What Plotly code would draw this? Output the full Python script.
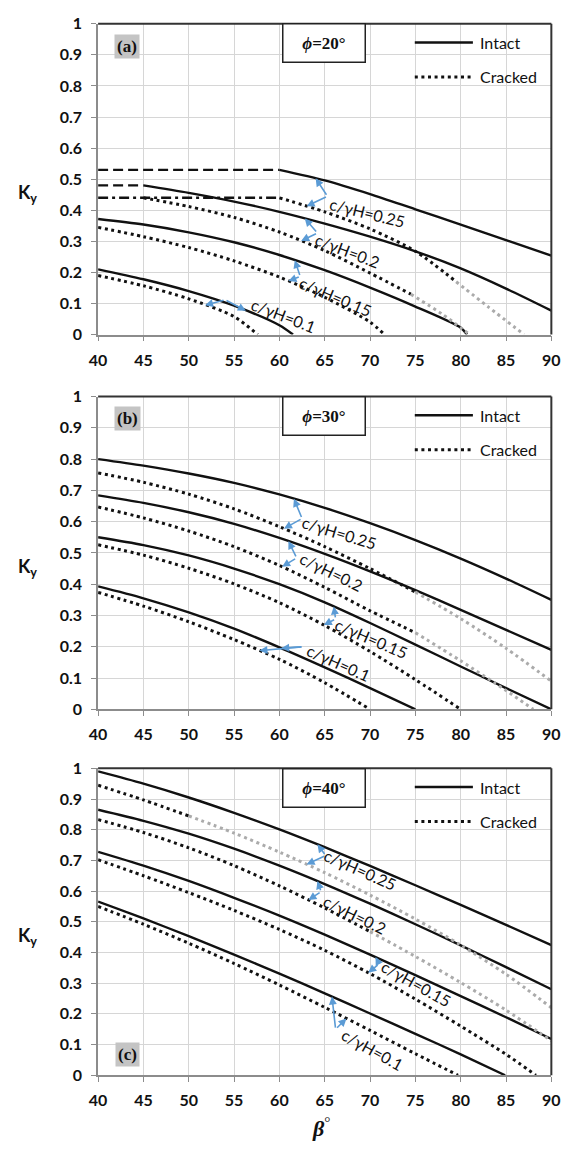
import numpy as np
import plotly.graph_objects as go

W, H = 571, 1157

# ---------------- data: K_y against slope angle beta (deg) ----------------
beta_ticks = [40, 45, 50, 55, 60, 65, 70, 75, 80, 85, 90]
ky_ticks = [0, 0.1, 0.2, 0.3, 0.4, 0.5, 0.6, 0.7, 0.8, 0.9, 1]
ky_ticktext = ["0", "0.1", "0.2", "0.3", "0.4", "0.5", "0.6", "0.7", "0.8", "0.9", "1"]
levels = ["0.25", "0.2", "0.15", "0.1"]

# phi = 20 deg
a_i25_cap_b = [40, 60]
a_i25_cap_k = [0.53, 0.53]
a_i25_b = [60, 65, 70, 75, 80, 85, 90]
a_i25_k = [0.53, 0.496, 0.452, 0.403, 0.354, 0.304, 0.254]
a_i20_cap_b = [40, 45]
a_i20_cap_k = [0.48, 0.48]
a_i20_b = [45, 50, 55, 60, 65, 70, 75, 80, 85, 90]
a_i20_k = [0.48, 0.456, 0.428, 0.395, 0.357, 0.315, 0.268, 0.213, 0.148, 0.077]
a_i15_b = [40, 45, 50, 55, 60, 65, 70, 75, 80, 80.7]
a_i15_k = [0.372, 0.354, 0.329, 0.297, 0.256, 0.207, 0.151, 0.09, 0.022, 0]
a_i10_b = [40, 45, 50, 55, 60, 61.5]
a_i10_k = [0.21, 0.178, 0.14, 0.093, 0.03, 0]
a_c25_cap_b = [40, 60]
a_c25_cap_k = [0.44, 0.44]
a_c25_b = [60, 65, 70, 75, 79.5]
a_c25_k = [0.44, 0.395, 0.34, 0.268, 0.17]
a_c25_ext_b = [79.5, 83, 87]
a_c25_ext_k = [0.17, 0.09, 0]
a_c20_b = [45, 50, 55, 60, 65, 70, 74.5]
a_c20_k = [0.44, 0.412, 0.377, 0.33, 0.27, 0.198, 0.13]
a_c20_ext_b = [74.5, 78, 81]
a_c20_ext_k = [0.13, 0.065, 0]
a_c15_b = [40, 45, 50, 55, 60, 65, 70, 71.6]
a_c15_k = [0.345, 0.315, 0.28, 0.237, 0.185, 0.12, 0.04, 0]
a_c10_b = [40, 45, 50, 55, 57.6]
a_c10_k = [0.19, 0.157, 0.115, 0.058, 0]

# phi = 30 deg
b_i25_b = [40, 45, 50, 55, 60, 65, 70, 75, 80, 85, 90]
b_i25_k = [0.80, 0.779, 0.754, 0.724, 0.687, 0.644, 0.595, 0.541, 0.482, 0.418, 0.35]
b_i20_b = [40, 45, 50, 55, 60, 65, 70, 75, 80, 85, 90]
b_i20_k = [0.684, 0.66, 0.63, 0.593, 0.548, 0.497, 0.441, 0.381, 0.318, 0.254, 0.19]
b_i15_b = [40, 45, 50, 55, 60, 65, 70, 75, 80, 85, 90]
b_i15_k = [0.55, 0.525, 0.492, 0.45, 0.40, 0.342, 0.276, 0.207, 0.137, 0.068, 0]
b_i10_b = [40, 45, 50, 55, 60, 65, 70, 75]
b_i10_k = [0.393, 0.355, 0.31, 0.258, 0.198, 0.134, 0.068, 0]
b_c25_b = [40, 45, 50, 55, 60, 65, 70, 75]
b_c25_k = [0.756, 0.726, 0.688, 0.641, 0.584, 0.52, 0.45, 0.375]
b_c25_ext_b = [75, 80, 85, 90]
b_c25_ext_k = [0.375, 0.29, 0.195, 0.09]
b_c20_b = [40, 45, 50, 55, 60, 65, 70, 75]
b_c20_k = [0.647, 0.612, 0.57, 0.52, 0.46, 0.39, 0.315, 0.245]
b_c20_ext_b = [75, 80, 85, 88]
b_c20_ext_k = [0.245, 0.155, 0.06, 0]
b_c15_b = [40, 45, 50, 55, 60, 65, 70, 75, 80]
b_c15_k = [0.526, 0.493, 0.451, 0.401, 0.341, 0.268, 0.185, 0.095, 0]
b_c10_b = [40, 45, 50, 55, 60, 65, 70]
b_c10_k = [0.374, 0.33, 0.28, 0.223, 0.16, 0.085, 0]

# phi = 40 deg
c_i25_b = [40, 45, 50, 55, 60, 65, 70, 75, 80, 85, 90]
c_i25_k = [0.99, 0.95, 0.905, 0.855, 0.801, 0.743, 0.682, 0.619, 0.555, 0.49, 0.424]
c_i20_b = [40, 45, 50, 55, 60, 65, 70, 75, 80, 85, 90]
c_i20_k = [0.865, 0.829, 0.787, 0.738, 0.683, 0.623, 0.559, 0.492, 0.423, 0.352, 0.28]
c_i15_b = [40, 45, 50, 55, 60, 65, 70, 75, 80, 85, 90]
c_i15_k = [0.728, 0.683, 0.633, 0.578, 0.52, 0.458, 0.393, 0.326, 0.258, 0.189, 0.118]
c_i10_b = [40, 45, 50, 55, 60, 65, 70, 75, 80, 84.9]
c_i10_k = [0.566, 0.511, 0.453, 0.393, 0.331, 0.267, 0.201, 0.135, 0.068, 0]
c_c25_b = [40, 45, 50]
c_c25_k = [0.945, 0.897, 0.845]
c_c25_ext_b = [50, 55, 60, 65, 70, 75, 80, 85, 90]
c_c25_ext_k = [0.845, 0.789, 0.727, 0.66, 0.587, 0.509, 0.424, 0.329, 0.22]
c_c20_b = [40, 45, 50, 55, 60, 65, 70]
c_c20_k = [0.833, 0.791, 0.741, 0.683, 0.617, 0.545, 0.468]
c_c20_ext_b = [70, 75, 80, 85, 90]
c_c20_ext_k = [0.468, 0.387, 0.302, 0.212, 0.112]
c_c15_b = [40, 45, 50, 55, 60, 65, 70, 75, 80, 85, 88.3]
c_c15_k = [0.702, 0.65, 0.595, 0.537, 0.475, 0.407, 0.331, 0.248, 0.16, 0.068, 0]
c_c10_b = [40, 45, 50, 55, 60, 65, 70, 75, 79.7]
c_c10_k = [0.55, 0.492, 0.43, 0.364, 0.294, 0.221, 0.146, 0.07, 0]

# ---------------- styles ----------------
BLACK = "#111111"
GREY = "#ababab"
BLUE = "#5b9bd5"
AXIS_GREY = "#8c8c8c"
GRID = "#d6d6d6"
SOLID = dict(color=BLACK, width=2.4)
DOTTED = dict(color=BLACK, width=3, dash="3px,3.6px")
DOTTED_GREY = dict(color=GREY, width=3, dash="3px,3.6px")
DASHED = dict(color=BLACK, width=2.4, dash="10px,5px")
DASHDOT = dict(color=BLACK, width=2.4, dash="10px,4px,3px,4px")
TICK_FONT = dict(family="Lato", size=16, color=BLACK, weight="bold")
LABEL_FONT = dict(family="Lato", size=16, color=BLACK)


def px2x(px):
    return px / W


def px2y(py):
    return 1 - py / H


# panel geometry in pixels (top of plot, bottom of plot)
panels = [
    dict(key="", top=14, bottom=330, phi="20", tag="(a)", tag_py=37),
    dict(key="2", top=393, bottom=711, phi="30", tag="(b)", tag_py=415),
    dict(key="3", top=771, bottom=1083, phi="40", tag="(c)", tag_py=1062),
]
PX_L, PX_R = 92, 560

# curve segments per panel: (beta, ky, style)
segments = [
    [
        (a_i25_cap_b, a_i25_cap_k, DASHED), (a_i25_b, a_i25_k, SOLID),
        (a_i20_cap_b, a_i20_cap_k, DASHED), (a_i20_b, a_i20_k, SOLID),
        (a_i15_b, a_i15_k, SOLID), (a_i10_b, a_i10_k, SOLID),
        (a_c25_cap_b, a_c25_cap_k, DASHDOT), (a_c25_b, a_c25_k, DOTTED),
        (a_c25_ext_b, a_c25_ext_k, DOTTED_GREY),
        (a_c20_b, a_c20_k, DOTTED), (a_c20_ext_b, a_c20_ext_k, DOTTED_GREY),
        (a_c15_b, a_c15_k, DOTTED), (a_c10_b, a_c10_k, DOTTED),
    ],
    [
        (b_i25_b, b_i25_k, SOLID), (b_i20_b, b_i20_k, SOLID),
        (b_i15_b, b_i15_k, SOLID), (b_i10_b, b_i10_k, SOLID),
        (b_c25_b, b_c25_k, DOTTED), (b_c25_ext_b, b_c25_ext_k, DOTTED_GREY),
        (b_c20_b, b_c20_k, DOTTED), (b_c20_ext_b, b_c20_ext_k, DOTTED_GREY),
        (b_c15_b, b_c15_k, DOTTED), (b_c10_b, b_c10_k, DOTTED),
    ],
    [
        (c_i25_b, c_i25_k, SOLID), (c_i20_b, c_i20_k, SOLID),
        (c_i15_b, c_i15_k, SOLID), (c_i10_b, c_i10_k, SOLID),
        (c_c25_b, c_c25_k, DOTTED), (c_c25_ext_b, c_c25_ext_k, DOTTED_GREY),
        (c_c20_b, c_c20_k, DOTTED), (c_c20_ext_b, c_c20_ext_k, DOTTED_GREY),
        (c_c15_b, c_c15_k, DOTTED), (c_c10_b, c_c10_k, DOTTED),
    ],
]

# full intact / cracked curves for each level (used to place pointer tips on them)
intact = [
    [(a_i25_cap_b + a_i25_b, a_i25_cap_k + a_i25_k), (a_i20_cap_b + a_i20_b, a_i20_cap_k + a_i20_k),
     (a_i15_b, a_i15_k), (a_i10_b, a_i10_k)],
    [(b_i25_b, b_i25_k), (b_i20_b, b_i20_k), (b_i15_b, b_i15_k), (b_i10_b, b_i10_k)],
    [(c_i25_b, c_i25_k), (c_i20_b, c_i20_k), (c_i15_b, c_i15_k), (c_i10_b, c_i10_k)],
]
cracked = [
    [(a_c25_cap_b + a_c25_b + a_c25_ext_b, a_c25_cap_k + a_c25_k + a_c25_ext_k),
     (a_c20_b + a_c20_ext_b, a_c20_k + a_c20_ext_k), (a_c15_b, a_c15_k), (a_c10_b, a_c10_k)],
    [(b_c25_b + b_c25_ext_b, b_c25_k + b_c25_ext_k), (b_c20_b + b_c20_ext_b, b_c20_k + b_c20_ext_k),
     (b_c15_b, b_c15_k), (b_c10_b, b_c10_k)],
    [(c_c25_b + c_c25_ext_b, c_c25_k + c_c25_ext_k), (c_c20_b + c_c20_ext_b, c_c20_k + c_c20_ext_k),
     (c_c15_b, c_c15_k), (c_c10_b, c_c10_k)],
]

# label placement: (text centre beta, text centre K, angle, intact tip beta, cracked tip beta, vertex beta, vertex K)
label_layout = [
    [(69.7, 0.393, 14, 64.0, 63.0, 65.3, 0.445),
     (67.5, 0.272, 21, 62.8, 62.4, 64.2, 0.327),
     (66.2, 0.121, 23, 61.7, 61.0, 62.3, 0.187),
     (60.5, 0.063, 21, 56.3, 51.8, 54.0, 0.112)],
    [(66.6, 0.566, 17, 61.6, 60.5, 62.5, 0.61),
     (65.7, 0.442, 26, 61.0, 60.3, 61.9, 0.484),
     (70.2, 0.226, 23, 66.0, 64.9, 66.2, 0.289),
     (66.5, 0.150, 24, 60.2, 57.8, 62.6, 0.20)],
    [(68.9, 0.671, 24, 64.2, 63.0, 65.1, 0.716),
     (68.3, 0.523, 26, 64.2, 63.2, 64.6, 0.598),
     (75.1, 0.299, 29, 70.6, 69.8, 71.0, 0.363),
     (70.3, 0.085, 29, 65.8, 67.4, 66.2, 0.15)],
]

fig = go.Figure()
shapes = []
annotations = []
layout_axes = {}

for p, panel in enumerate(panels):
    k = panel["key"]
    xname, yname = "x" + k, "y" + k
    ydom = [px2y(panel["bottom"]), px2y(panel["top"])]
    layout_axes["xaxis" + k] = dict(
        domain=[px2x(PX_L), px2x(PX_R)], range=[40, 90], anchor=yname,
        tickvals=beta_ticks, ticktext=[str(v) for v in beta_ticks],
        showgrid=True, gridcolor=GRID, gridwidth=1, zeroline=False,
        showline=True, linecolor=AXIS_GREY, linewidth=1.5,
        ticks="outside", ticklen=5, tickcolor=AXIS_GREY, tickwidth=1.2,
        ticklabelstandoff=5, tickfont=TICK_FONT,
    )
    layout_axes["yaxis" + k] = dict(
        domain=ydom, range=[0, 1], anchor=xname,
        tickvals=ky_ticks, ticktext=ky_ticktext,
        showgrid=True, gridcolor=GRID, gridwidth=1, zeroline=False,
        showline=True, linecolor=AXIS_GREY, linewidth=1.5,
        ticks="outside", ticklen=5, tickcolor=AXIS_GREY, tickwidth=1.2,
        ticklabelstandoff=6, tickfont=TICK_FONT,
    )

    # curves
    for bx, ky, style in segments[p]:
        fig.add_trace(go.Scatter(
            x=bx, y=ky, mode="lines", line=dict(shape="spline", smoothing=0.8, **style),
            xaxis=xname, yaxis=yname, hoverinfo="skip", showlegend=False,
        ))

    # dark top and right frame
    for x0, y0, x1, y1 in [(0, 1, 1, 1), (1, 0, 1, 1)]:
        shapes.append(dict(type="line", xref=xname + " domain", yref=yname + " domain",
                           x0=x0, y0=y0, x1=x1, y1=y1, line=dict(color="#333333", width=2)))

    # c/yH labels with double-headed pointers (vertex -> intact curve, vertex -> cracked curve)
    for lv, (tx, ty, ang, xi, xc, vx, vy) in enumerate(label_layout[p]):
        ib, ik = intact[p][lv]
        cb, ck = cracked[p][lv]
        for tip_b, cb_, ck_ in [(xi, ib, ik), (xc, cb, ck)]:
            tip_k = float(np.interp(tip_b, cb_, ck_))
            annotations.append(dict(
                x=tip_b, y=tip_k, xref=xname, yref=yname, ax=vx, ay=vy,
                axref=xname, ayref=yname, text="", showarrow=True,
                arrowhead=2, arrowsize=1.0, arrowwidth=1.6, arrowcolor=BLUE,
            ))
        annotations.append(dict(
            x=tx, y=ty, xref=xname, yref=yname, text="c/\u03b3H=" + levels[lv],
            showarrow=False, textangle=ang, font=LABEL_FONT,
            xanchor="center", yanchor="middle",
        ))

    top = panel["top"]
    # phi box
    annotations.append(dict(
        x=px2x(325), y=px2y(top + 20), xref="paper", yref="paper",
        text="<b><i>\u03d5</i>=" + panel["phi"] + "\u00b0</b>", showarrow=False,
        font=dict(family="Liberation Serif", size=17, color=BLACK),
        bordercolor="#222222", borderwidth=1.5, borderpad=0, bgcolor="white",
        width=81, height=37, xanchor="center", yanchor="middle",
    ))
    # legend entries
    for dy, style, name in [(19, SOLID, "Intact"), (54, DOTTED, "Cracked")]:
        shapes.append(dict(type="line", xref="paper", yref="paper",
                           x0=px2x(419), x1=px2x(479), y0=px2y(top + dy), y1=px2y(top + dy),
                           line=style))
        annotations.append(dict(
            x=px2x(484), y=px2y(top + dy), xref="paper", yref="paper", text=name,
            showarrow=False, xanchor="left", yanchor="middle",
            font=dict(family="Lato", size=16, color=BLACK),
        ))
    # panel tag
    annotations.append(dict(
        x=px2x(122), y=px2y(panel["tag_py"]), xref="paper", yref="paper",
        text="<b>" + panel["tag"] + "</b>", showarrow=False, bgcolor="#c4c4c4",
        font=dict(family="Liberation Serif", size=17, color=BLACK),
        borderpad=2, xanchor="center", yanchor="middle",
    ))
    # y-axis title
    ky_mid = (panel["top"] + panel["bottom"]) / 2
    annotations.append(dict(
        x=px2x(19), y=px2y(ky_mid + 15), xref="paper", yref="paper",
        text="<b>K<sub>y</sub></b>", showarrow=False, xanchor="center", yanchor="middle",
        font=dict(family="Lato", size=18, color=BLACK),
    ))

# x-axis title
annotations.append(dict(
    x=px2x(322), y=px2y(1136), xref="paper", yref="paper",
    text="<b><i>\u03b2</i></b><sup>\u00b0</sup>", showarrow=False,
    xanchor="center", yanchor="middle",
    font=dict(family="Liberation Serif", size=22, color=BLACK),
))

fig.update_layout(
    width=W, height=H, margin=dict(l=0, r=0, t=0, b=0),
    paper_bgcolor="white", plot_bgcolor="white",
    showlegend=False, shapes=shapes, annotations=annotations,
    **layout_axes,
)

fig.write_html("out.html")
